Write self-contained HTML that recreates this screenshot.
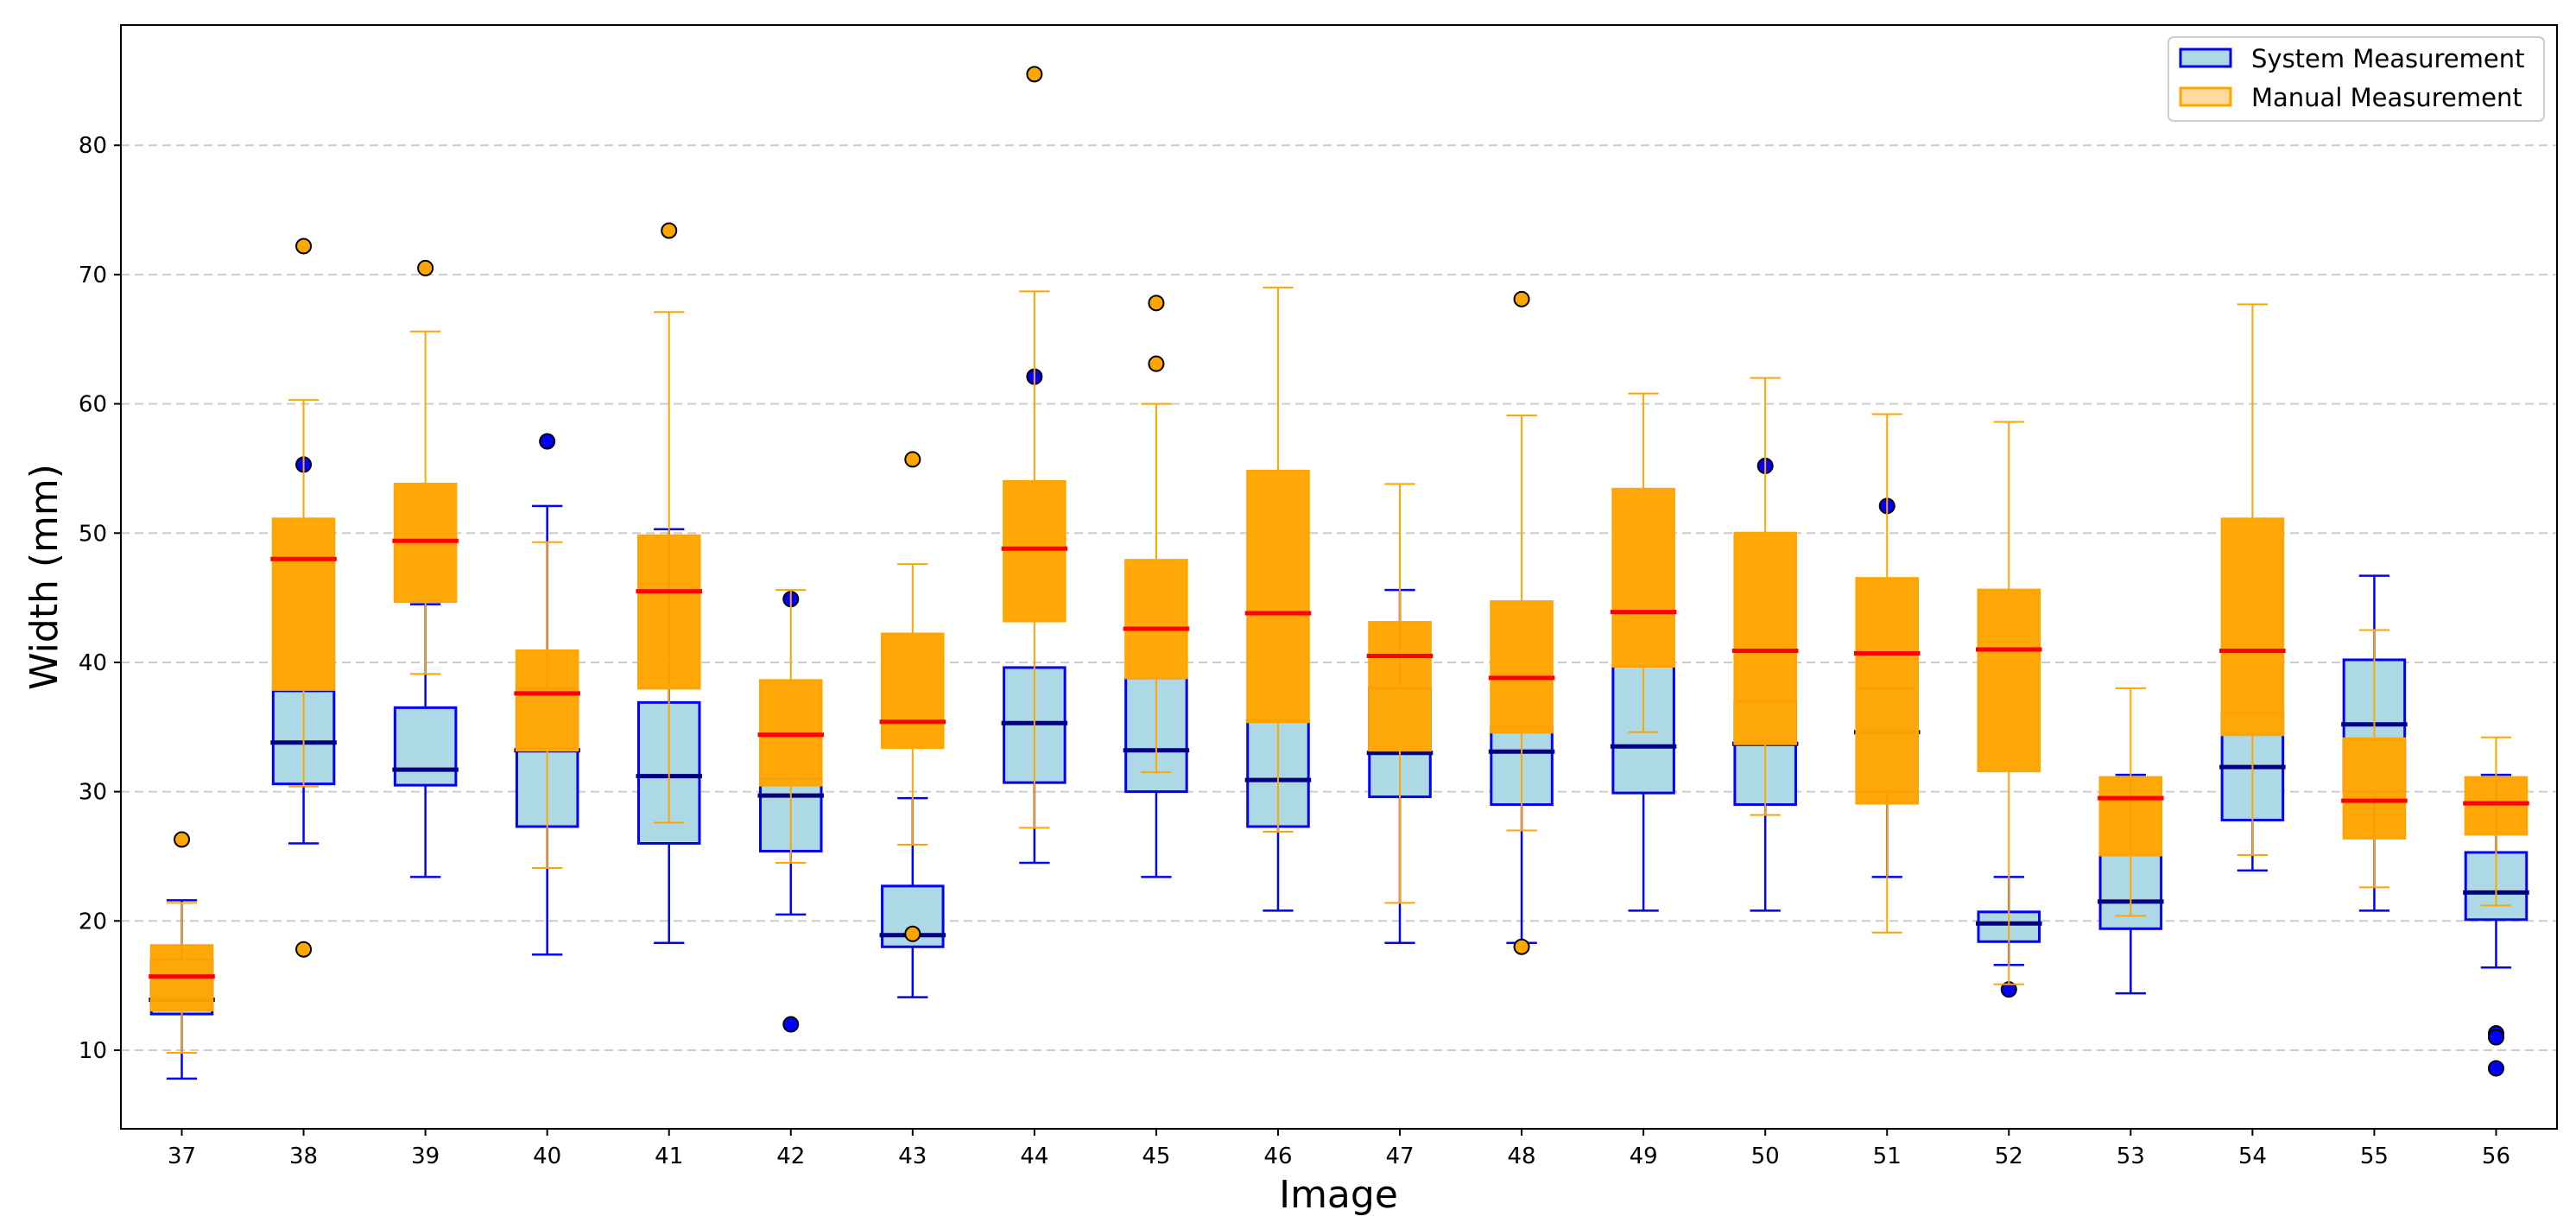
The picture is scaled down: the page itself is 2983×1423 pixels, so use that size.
<!DOCTYPE html>
<html><head><meta charset="utf-8"><style>
html,body{margin:0;padding:0;background:#fff;}
svg{display:block;font-family:"DejaVu Sans","Liberation Sans",sans-serif;}
</style></head><body>
<svg id="chart" width="2983" height="1423" viewBox="0 0 2983 1423" xmlns="http://www.w3.org/2000/svg">
<rect width="2983" height="1423" fill="#fff"/>
<g id="grid"></g>
<g id="plot"></g>
<g id="axes"></g>
<text x="1550" y="1398" font-size="44" text-anchor="middle" fill="#000">Image</text>
<text transform="translate(66,668) rotate(-90)" font-size="44" text-anchor="middle" fill="#000">Width (mm)</text>
<g>
<rect x="2511" y="43" width="435" height="97" rx="6" fill="#fff" fill-opacity="0.8" stroke="#ccc" stroke-width="2"/>
<rect x="2525" y="57" width="58" height="20" fill="#ADD8E6" stroke="blue" stroke-width="3"/>
<text x="2607" y="78" font-size="29" fill="#000">System Measurement</text>
<rect x="2525" y="102" width="58" height="20" fill="#FFDAA0" stroke="orange" stroke-width="3"/>
<text x="2607" y="123" font-size="29" fill="#000">Manual Measurement</text>
</g>
</svg>
<script>
const categories=[37,38,39,40,41,42,43,44,45,46,47,48,49,50,51,52,53,54,55,56];
const sysLo=[7.8,26,23.4,17.4,18.3,20.5,14.1,24.5,23.4,20.8,18.3,18.3,20.8,20.8,23.4,16.6,14.4,23.9,20.8,16.4];
const sysQ1=[12.8,30.6,30.5,27.3,26,25.4,18,30.7,30,27.3,29.6,29,29.9,29,30,18.4,19.4,27.8,30,20.1];
const sysMed=[13.9,33.8,31.7,33.2,31.2,29.7,18.9,35.3,33.2,30.9,33,33.1,33.5,33.7,34.6,19.8,21.5,31.9,35.2,22.2];
const sysQ3=[17,37.8,36.5,38,36.9,31,22.7,39.6,38.8,35.5,38,35,39.7,37,38,20.7,25.1,36.1,40.2,25.3];
const sysHi=[21.6,37.8,44.5,52.1,50.3,31,29.5,39.6,38.8,35.5,45.6,35,39.7,37,38,23.4,31.3,36.1,46.7,31.3];
const sysOut=[[],[55.3],[],[57.1],[],[12,44.9],[],[62.1],[],[],[],[],[],[55.2],[52.1],[14.7],[],[],[],[11.3,11,8.6]];
const manLo=[9.8,30.4,39.1,24.1,27.6,24.5,25.9,27.2,31.5,26.9,21.4,27,34.6,28.2,19.1,15.1,20.4,25.1,22.6,21.2];
const manQ1=[13.1,37.9,44.7,33.2,38,30.5,33.4,43.2,38.8,35.4,33.2,34.6,39.7,33.7,29.1,31.6,25.1,34.4,26.4,26.7];
const manMed=[15.7,48,49.4,37.6,45.5,34.4,35.4,48.8,42.6,43.8,40.5,38.8,43.9,40.9,40.7,41,29.5,40.9,29.3,29.1];
const manQ3=[18.1,51.1,53.8,40.9,49.8,38.6,42.2,54,47.9,54.8,43.1,44.7,53.4,50,46.5,45.6,31.1,51.1,34.1,31.1];
const manHi=[21.4,60.3,65.6,49.3,67.1,45.6,47.6,68.7,60,69,53.8,59.1,60.8,62,59.2,58.6,38,67.7,42.5,34.2];
const manOut=[[26.3],[72.2,17.8],[70.5],[],[73.4],[],[55.7,19],[85.5],[63.1,67.8],[],[],[68.1,18],[],[],[],[],[],[],[],[]];
const yTicks=[10,20,30,40,50,60,70,80];

const L=140,R=2961,T=29,B=1307,yMin=3.92,yMax=89.3;
const step=(R-L)/categories.length;
function xPos(i){return L+step*(i+0.5);}
function yPos(v){return B-(v-yMin)/(yMax-yMin)*(B-T);}
const NS="http://www.w3.org/2000/svg";
function mk(parent,tag,attrs){const e=document.createElementNS(NS,tag);for(const k in attrs)e.setAttribute(k,attrs[k]);parent.appendChild(e);return e;}
const grid=document.getElementById('grid'),plot=document.getElementById('plot'),axes=document.getElementById('axes');

yTicks.forEach(t=>{
  const y=yPos(t);
  const g=mk(grid,'line',{x1:L,x2:R,y1:y,y2:y,stroke:'#ccc','stroke-width':2,'stroke-dasharray':'10,6'});
  
  
  const tk=mk(axes,'line',{x1:L-8,x2:L,y1:y,y2:y,stroke:'#000','stroke-width':2});
  
  
  const tx=mk(axes,'text',{x:L-16,y:y+9,'font-size':26,'text-anchor':'end',fill:'#000'});
  tx.textContent=t;
  
  
});
categories.forEach((c,i)=>{
  const x=xPos(i);
  const tk=mk(axes,'line',{x1:x,x2:x,y1:B,y2:B+8,stroke:'#000','stroke-width':2});
  
  
  const tx=mk(axes,'text',{x:x,y:B+40,'font-size':26,'text-anchor':'middle',fill:'#000'});
  tx.textContent=c;
  
  
});
const frame=mk(axes,'rect',{x:L,y:T,width:R-L,height:B-T,fill:'none',stroke:'#000','stroke-width':2});



const bw=step*0.5, cw=bw*0.5;

function drawBoxes(lo,q1,med,q3,hi,outs,fill,edge,medC,wl,ml,ofill,name,op){
  const patches=mk(plot,'g',{});
  
  
  const lines=mk(plot,'g',{});
  
  
  categories.forEach((c,i)=>{
    const x=xPos(i);
    const r=mk(patches,'rect',{x:x-bw/2,y:yPos(q3[i]),width:bw,height:yPos(q1[i])-yPos(q3[i]),fill:fill,stroke:edge,'stroke-width':3,'fill-opacity':op});
    
    
  });
  categories.forEach((c,i)=>{
    const x=xPos(i);
    const w1=mk(lines,'line',{x1:x,x2:x,y1:yPos(q1[i]),y2:yPos(lo[i]),stroke:edge,'stroke-width':wl});
    
    
    const w2=mk(lines,'line',{x1:x,x2:x,y1:yPos(q3[i]),y2:yPos(hi[i]),stroke:edge,'stroke-width':wl});
    
    
    const c1=mk(lines,'line',{x1:x-cw/2,x2:x+cw/2,y1:yPos(lo[i]),y2:yPos(lo[i]),stroke:edge,'stroke-width':wl});
    
    
    const c2=mk(lines,'line',{x1:x-cw/2,x2:x+cw/2,y1:yPos(hi[i]),y2:yPos(hi[i]),stroke:edge,'stroke-width':wl});
    
    
    const m=mk(lines,'line',{x1:x-bw/2-3,x2:x+bw/2+3,y1:yPos(med[i]),y2:yPos(med[i]),stroke:medC,'stroke-width':ml});
    
    
    outs[i].forEach(v=>{
      const o=mk(lines,'circle',{cx:x,cy:yPos(v),r:8.5,fill:ofill,stroke:'#000','stroke-width':2});
      
      
    });
  });
}
drawBoxes(sysLo,sysQ1,sysMed,sysQ3,sysHi,sysOut,'#ADD8E6','blue','navy',2.5,5,'blue','system',1);
drawBoxes(manLo,manQ1,manMed,manQ3,manHi,manOut,'orange','orange','red',2,5,'orange','manual',0.97);
</script>
</body></html>
